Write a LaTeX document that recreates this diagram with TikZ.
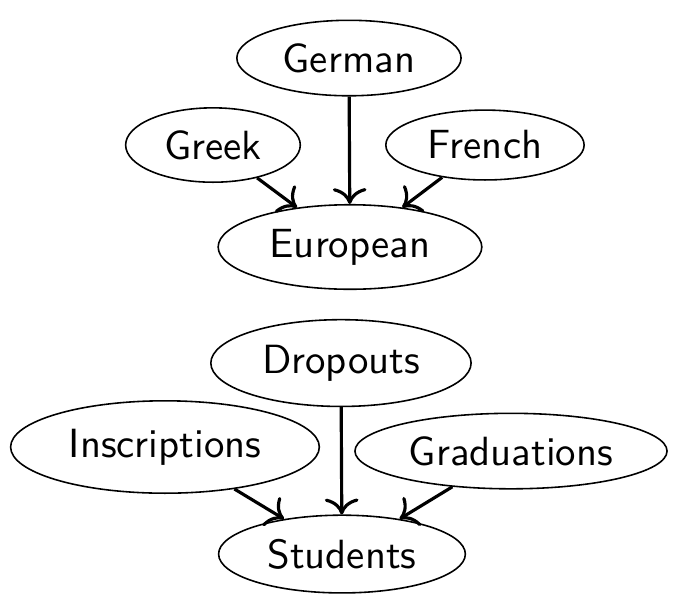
\documentclass[tikz,border=0pt]{standalone}
\usepackage{tikz}
\usetikzlibrary{arrows.meta,shapes,positioning}
\tikzstyle{langnode}=[ellipse, draw, inner sep=0pt, font=\sffamily\fontsize{10.3}{12}\selectfont]
\tikzstyle{flowedge}=[-{To[length=4pt,width=8.5pt]}, thick]

\begin{document}
\begin{tikzpicture}
    \useasboundingbox (0,0) rectangle (6.106,5.343);

    % languages
    \node[langnode, minimum width=1.99cm, minimum height=0.67cm] (german) at (3.097,4.828) {German};
    \node[langnode, minimum width=1.55cm, minimum height=0.66cm] (greek) at (1.890,4.056) {Greek};
    \node[langnode, minimum width=1.76cm, minimum height=0.62cm] (french) at (4.304,4.056) {French};
    \node[langnode, minimum width=2.34cm, minimum height=0.75cm] (european) at (3.106,3.151) {European};

    % students
    \node[langnode, minimum width=2.31cm, minimum height=0.77cm] (dropouts) at (3.026,2.121) {Dropouts};
    \node[langnode, minimum width=2.74cm, minimum height=0.82cm] (inscriptions) at (1.464,1.376) {Inscriptions};
    \node[langnode, minimum width=2.77cm, minimum height=0.67cm] (graduations) at (4.535,1.340) {Graduations};
    \node[langnode, minimum width=2.19cm, minimum height=0.69cm] (students) at (3.035,0.426) {Students};

    \foreach \src in {greek, german, french}
      \draw[flowedge] (\src) -- (european);
    \foreach \src in {inscriptions, dropouts, graduations}
      \draw[flowedge] (\src) -- (students);
\end{tikzpicture}
\end{document}
